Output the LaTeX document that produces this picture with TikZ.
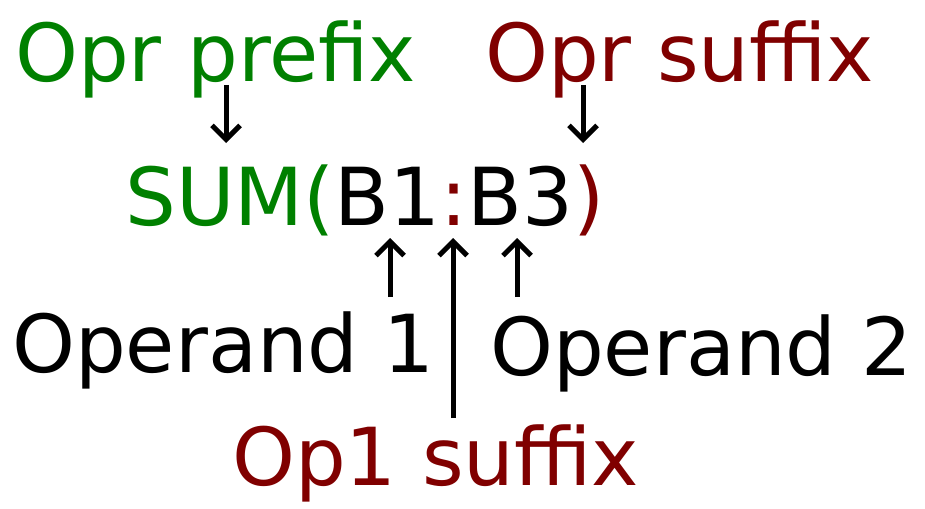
\documentclass[tikz,border=0pt]{standalone}
\usepackage{fontspec}
\setmainfont{DejaVu Sans}
\usetikzlibrary{arrows.meta}
\definecolor{gr}{HTML}{008000}
\definecolor{dr}{HTML}{800000}
\begin{document}
\begin{tikzpicture}[x=1pt,y=-1pt,
  lbl/.style={anchor=base west,inner sep=0pt,font=\fontsize{80}{90}\selectfont},
  arr/.style={line width=5pt,-{Straight Barb[length=14pt,width=28pt,line width=5pt]}}]
\useasboundingbox (0,0) rectangle (925,508);
\node[lbl,text=gr] (pre) at (15,82) {Opr prefix};
\node[lbl,text=dr] (suf) at (485,82) {Opr suffix};
\node[lbl] (f) at (125,225) {\textcolor{gr}{SUM(}B1\textcolor{dr}{:}B3\textcolor{dr}{)}};
\node[lbl] (o1) at (12,372) {Operand 1};
\node[lbl] (o2) at (490,375) {Operand 2};
\node[lbl,text=dr] (s1) at (232,485) {Op1 suffix};
\coordinate (a1) at (226,85); \coordinate (b1) at (226,143);
\coordinate (a2) at (583,85); \coordinate (b2) at (583,143);
\coordinate (a3) at (390,297); \coordinate (b3) at (390,238);
\coordinate (a4) at (453,418); \coordinate (b4) at (453,238);
\coordinate (a5) at (517,297); \coordinate (b5) at (517,238);
\foreach \i in {1,...,5} \draw[arr] (a\i) -- (b\i);
\end{tikzpicture}
\end{document}
